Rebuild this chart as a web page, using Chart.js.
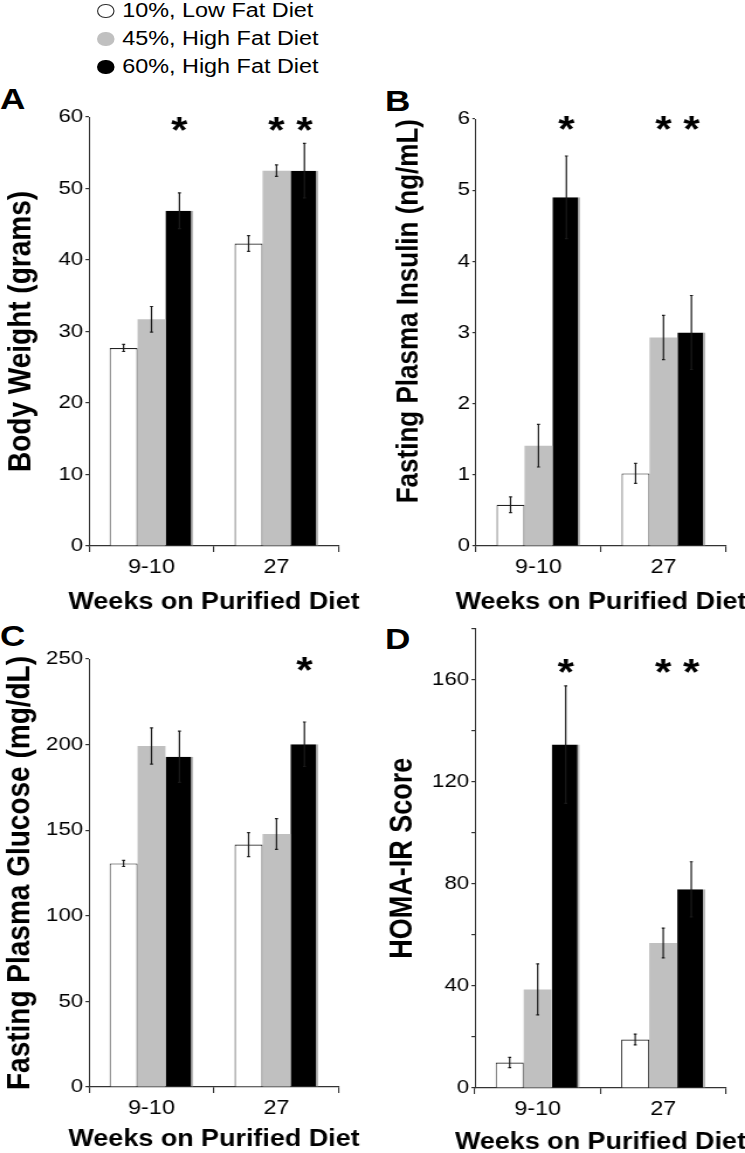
<!DOCTYPE html>
<html>
<head>
<meta charset="utf-8">
<script src="https://cdn.jsdelivr.net/npm/chart.js@4"></script>
<style>
  html, body { margin: 0; padding: 0; background: #fff; overflow: hidden; }
  body { width: 745px; height: 1153px; position: relative; font-family: "Liberation Sans", Arial, sans-serif; color: #000; }
  canvas { position: absolute; }
  .letter { position: absolute; font-weight: bold; font-size: 30px; line-height: 30px; transform: scaleX(1.17); transform-origin: 0 0; }
  #legend { position: absolute; left: 97px; top: -4px; font-size: 20px; line-height: 28px; white-space: nowrap; transform: scaleX(1.17); transform-origin: 0 0; }
  #legend .dot { display: inline-block; width: 14.5px; height: 14.5px; border-radius: 50%; box-sizing: border-box; vertical-align: -1px; margin-right: 7px; }
</style>
</head>
<body>
<div id="legend"></div>
<div class="letter" style="left:0px;top:84px">A</div>
<div class="letter" style="left:385px;top:86px">B</div>
<div class="letter" style="left:0px;top:621px">C</div>
<div class="letter" style="left:385px;top:624px">D</div>
<canvas id="chartA"></canvas>
<canvas id="chartB"></canvas>
<canvas id="chartC"></canvas>
<canvas id="chartD"></canvas>
<script>
const FONT = '"Liberation Sans", Arial, sans-serif';
// the source figure is a little wider than tall, so every panel is stretched sideways
const SX = 1.17;

const weeks = ['9-10', '27'];
const dietNames = ['10%, Low Fat Diet', '45%, High Fat Diet', '60%, High Fat Diet'];
const dietColors = ['#ffffff', '#c0c0c0', '#000000'];
const xTitle = 'Weeks on Purified Diet';

// A - body weight (grams), mean and error
const weightLow = [27.7, 42.3];
const weight45 = [31.7, 52.5];
const weight60 = [46.9, 52.5];
const weightLowErr = [0.5, 1.1];
const weight45Err = [1.8, 0.8];
const weight60Err = [2.5, 3.8];
const weightStars = [[0, 0], [0, 1], [1, 1]];

// B - fasting plasma insulin (ng/mL)
const insulinLow = [0.58, 1.02];
const insulin45 = [1.41, 2.93];
const insulin60 = [4.9, 3.0];
const insulinLowErr = [0.11, 0.14];
const insulin45Err = [0.3, 0.31];
const insulin60Err = [0.58, 0.52];
const insulinStars = [[0, 0], [0, 1], [1, 1]];

// C - fasting plasma glucose (mg/dL)
const glucoseLow = [130.6, 141.6];
const glucose45 = [199.2, 147.8];
const glucose60 = [192.9, 200.2];
const glucoseLowErr = [1.8, 7];
const glucose45Err = [10.6, 9];
const glucose60Err = [15, 13];
const glucoseStars = [[0, 0], [0, 0], [0, 1]];

// D - HOMA-IR score
const homaLow = [10, 19];
const homa45 = [38.6, 56.8];
const homa60 = [134.5, 77.8];
const homaLowErr = [2, 2.1];
const homa45Err = [10, 5.8];
const homa60Err = [23, 10.8];
const homaStars = [[0, 0], [0, 1], [1, 1]];

// legend
const legendEl = document.getElementById('legend');
dietNames.forEach((name, i) => {
  const row = document.createElement('div');
  const dot = document.createElement('span');
  dot.className = 'dot';
  dot.style.background = dietColors[i];
  if (i === 0) dot.style.border = '1.3px solid #333';
  row.appendChild(dot);
  row.appendChild(document.createTextNode(name));
  legendEl.appendChild(row);
});

// error bars, asterisks and the x title (the built-in one gets squeezed to the axis width)
const barExtras = {
  id: 'barExtras',
  afterDatasetsDraw(chart, args, opts) {
    const ctx = chart.ctx;
    const yScale = chart.scales.y;
    ctx.save();
    ctx.strokeStyle = '#1a1a1a';
    ctx.lineWidth = 1.2;
    chart.data.datasets.forEach((ds, i) => {
      chart.getDatasetMeta(i).data.forEach((bar, j) => {
        const v = ds.data[j];
        const e = opts.errors[i][j];
        const top = yScale.getPixelForValue(v + e);
        const bot = yScale.getPixelForValue(v - e);
        ctx.beginPath();
        ctx.moveTo(bar.x, top); ctx.lineTo(bar.x, bot);
        ctx.moveTo(bar.x - 1.3, top); ctx.lineTo(bar.x + 1.3, top);
        ctx.moveTo(bar.x - 1.3, bot); ctx.lineTo(bar.x + 1.3, bot);
        ctx.stroke();
        if (opts.stars[i][j]) {
          ctx.fillStyle = '#000';
          ctx.font = 'bold 36px ' + FONT;
          ctx.textAlign = 'center';
          ctx.textBaseline = 'alphabetic';
          ctx.fillText('*', bar.x, yScale.getPixelForValue(opts.starLevel) + 20);
        }
      });
    });
    const area = chart.chartArea;
    ctx.fillStyle = '#000';
    ctx.font = 'bold 23px ' + FONT;
    ctx.textAlign = 'center';
    ctx.textBaseline = 'middle';
    ctx.fillText(opts.xTitle, (area.left + area.right) / 2, opts.xTitleY);
    ctx.restore();
  }
};

function makePanel(p) {
  const canvas = document.getElementById(p.id);
  canvas.width = Math.round(p.box.width / SX);
  canvas.height = p.box.height;
  canvas.style.width = p.box.width + 'px';
  canvas.style.height = p.box.height + 'px';
  canvas.style.left = p.box.left + 'px';
  canvas.style.top = p.box.top + 'px';
  const yWidth = (p.plot.left - p.box.left) / SX;
  const xHeight = p.box.top + p.box.height - p.plot.bottom;
  const yTitlePad = Math.max(0, (p.yTitleX - p.box.left) / SX - p.yTitleSize * 0.6);

  new Chart(canvas, {
    type: 'bar',
    data: {
      labels: weeks,
      datasets: [
        { label: dietNames[0], data: p.values[0], backgroundColor: dietColors[0], borderColor: '#222',
          borderWidth: { top: 1.2, left: 1, right: 1, bottom: 0 } },
        { label: dietNames[1], data: p.values[1], backgroundColor: dietColors[1], borderWidth: 0 },
        { label: dietNames[2], data: p.values[2], backgroundColor: dietColors[2], borderColor: '#b8b8b8',
          borderWidth: { top: 0, left: 0, right: 2, bottom: 0 } }
      ]
    },
    options: {
      responsive: false,
      animation: false,
      devicePixelRatio: 1,
      layout: {
        padding: { left: 0, bottom: 0, top: p.plot.top - p.box.top, right: (p.box.left + p.box.width - p.plot.right) / SX }
      },
      datasets: { bar: { categoryPercentage: 0.67, barPercentage: 1 } },
      scales: {
        x: {
          grid: { offset: true, drawOnChartArea: false, tickLength: 6, color: '#333', lineWidth: 1.1 },
          border: { display: true, color: '#333', width: 1.2 },
          ticks: { color: '#000', font: { family: FONT, size: 20 }, padding: 3 },
          title: { display: false },
          afterFit(s) { s.height = xHeight; }
        },
        y: {
          min: 0,
          max: p.yMax,
          grid: { drawOnChartArea: false, tickLength: 3, color: '#333', lineWidth: 1.2 },
          border: { display: true, color: '#333', width: 1 },
          ticks: {
            stepSize: p.yStep, color: '#000', padding: 2,
            font: { family: FONT, size: 19 },
            callback: v => (v % p.labelEvery === 0 ? v : '')
          },
          title: {
            display: true, text: p.yTitle, align: p.yTitleAlign, color: '#000',
            padding: { top: yTitlePad, bottom: 0 },
            font: { family: FONT, size: p.yTitleSize, weight: 'bold', lineHeight: 1.2 }
          },
          afterFit(s) { s.width = yWidth; }
        }
      },
      plugins: {
        legend: { display: false },
        tooltip: { enabled: false },
        barExtras: {
          errors: p.errors, stars: p.stars, starLevel: p.starLevel,
          xTitle: xTitle, xTitleY: p.xTitleY - p.box.top
        }
      }
    },
    plugins: [barExtras]
  });
}

makePanel({
  id: 'chartA',
  box: { left: 0, top: 75, width: 372, height: 544 },
  plot: { left: 89, right: 339, top: 117, bottom: 546 },
  yMax: 60, yStep: 10, labelEvery: 10,
  yTitle: 'Body Weight (grams)', yTitleSize: 28, yTitleX: 21, yTitleAlign: 'center',
  xTitleY: 603,
  values: [weightLow, weight45, weight60],
  errors: [weightLowErr, weight45Err, weight60Err],
  stars: weightStars, starLevel: 59.2
});

makePanel({
  id: 'chartB',
  box: { left: 372, top: 75, width: 373, height: 544 },
  plot: { left: 476, right: 726, top: 119, bottom: 546 },
  yMax: 6, yStep: 1, labelEvery: 1,
  yTitle: 'Fasting Plasma Insulin (ng/mL)', yTitleSize: 26, yTitleX: 409, yTitleAlign: 'end',
  xTitleY: 603,
  values: [insulinLow, insulin45, insulin60],
  errors: [insulinLowErr, insulin45Err, insulin60Err],
  stars: insulinStars, starLevel: 5.96
});

makePanel({
  id: 'chartC',
  box: { left: 0, top: 615, width: 372, height: 541 },
  plot: { left: 89, right: 339, top: 659, bottom: 1087 },
  yMax: 250, yStep: 50, labelEvery: 50,
  yTitle: 'Fasting Plasma Glucose (mg/dL)', yTitleSize: 28, yTitleX: 19, yTitleAlign: 'center',
  xTitleY: 1140,
  values: [glucoseLow, glucose45, glucose60],
  errors: [glucoseLowErr, glucose45Err, glucose60Err],
  stars: glucoseStars, starLevel: 247.7
});

makePanel({
  id: 'chartD',
  box: { left: 372, top: 615, width: 373, height: 544 },
  plot: { left: 475, right: 726, top: 626, bottom: 1088 },
  yMax: 180, yStep: 20, labelEvery: 40,
  yTitle: 'HOMA-IR Score', yTitleSize: 27, yTitleX: 403, yTitleAlign: 'center',
  xTitleY: 1143,
  values: [homaLow, homa45, homa60],
  errors: [homaLowErr, homa45Err, homa60Err],
  stars: homaStars, starLevel: 165.6
});
</script>
</body>
</html>
